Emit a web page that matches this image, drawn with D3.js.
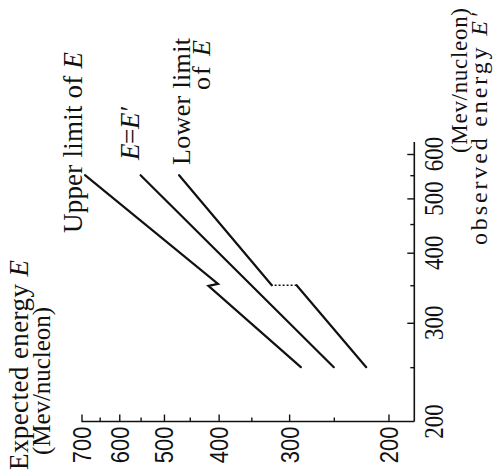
<!DOCTYPE html>
<html>
<head>
<meta charset="utf-8">
<script src="https://cdn.jsdelivr.net/npm/d3@7"></script>
<style>
  html, body { margin: 0; padding: 0; background: #fff; }
  svg { display: block; }
  text { fill: #111; }
</style>
</head>
<body>
<svg id="chart" width="493" height="476"></svg>
<script>
// ---- data (original orientation: x = observed energy E', y = expected energy E) ----
const observedTicksMajor = [200, 300, 400, 500, 600];
const observedTicksMinor = [250, 350, 450, 550];
const expectedTicksMajor = [200, 300, 400, 500, 600, 700];
const expectedTicksMinor = [250, 350, 450, 550, 650];

// Upper limit of E (small zig-zag at E' = 350)
const upperObserved = [250, 349, 352, 550];
const upperExpected = [286, 417, 401, 690];
// E = E'
const equalObserved = [250, 550];
const equalExpected = [250, 550];
// Lower limit of E (two solid parts joined by a dotted jump at E' = 350)
const lowerObservedA = [250, 350];
const lowerExpectedA = [219, 291];
const lowerObservedGap = [350, 350];
const lowerExpectedGap = [291, 322];
const lowerObservedB = [350, 550];
const lowerExpectedB = [322, 470];

// ---- drawing (the figure is rotated 90deg counter-clockwise) ----
const svg = d3.select("#chart");
const serif = "'Liberation Serif', 'DejaVu Serif', serif";
const sans = "'Liberation Sans', Arial, sans-serif";

// Expected energy E  -> screen x (increasing to the left)
const sE = d3.scaleLog().domain([180, 700]).range([414.3, 81.5]);
// Observed energy E' -> screen y (increasing upward)
const sO = d3.scaleLog().domain([200, 600]).range([421.5, 154]);

const line = d3.line().x(d => sE(d[1])).y(d => sO(d[0]));
const zip = (a, b) => a.map((v, i) => [v, b[i]]);

const axisG = svg.append("g").attr("stroke", "#111");
// bottom axis (E)
axisG.append("line")
  .attr("x1", sE(700)).attr("x2", sE(180))
  .attr("y1", sO(200)).attr("y2", sO(200))
  .attr("stroke-width", 1.6);
// right axis (E')
axisG.append("line")
  .attr("x1", sE(180)).attr("x2", sE(180))
  .attr("y1", sO(200)).attr("y2", sO(630))
  .attr("stroke-width", 1.6);

// E axis ticks (pointing up) via d3 axis
const gBottom = svg.append("g").attr("transform", `translate(0,${sO(200)})`);
gBottom.call(d3.axisTop(sE).tickValues(expectedTicksMajor).tickSize(7).tickFormat(""));
gBottom.append("g").call(d3.axisTop(sE).tickValues(expectedTicksMinor).tickSize(4).tickFormat(""));
gBottom.selectAll(".domain").remove();
gBottom.selectAll("line").attr("stroke", "#111").attr("stroke-width", 1.4);

// E' axis ticks (pointing left)
const gRight = svg.append("g").attr("transform", `translate(${sE(180)},0)`);
gRight.call(d3.axisLeft(sO).tickValues(observedTicksMajor.filter(v => v > 200)).tickSize(7).tickFormat(""));
gRight.append("g").call(d3.axisLeft(sO).tickValues(observedTicksMinor).tickSize(4).tickFormat(""));
gRight.selectAll(".domain").remove();
gRight.selectAll("line").attr("stroke", "#111").attr("stroke-width", 1.4);

// tick labels (rotated)
svg.append("g").selectAll("text").data(expectedTicksMajor).join("text")
  .attr("transform", d => `translate(${sE(d) + 9.5},${sO(200) + 5}) rotate(-90) scale(1,1.15)`)
  .attr("text-anchor", "end")
  .attr("font-family", sans).attr("font-size", 22)
  .text(d => d);

svg.append("g").selectAll("text").data(observedTicksMajor).join("text")
  .attr("transform", d => `translate(${sE(180) + 29},${sO(d)}) rotate(-90) scale(1,1.2)`)
  .attr("text-anchor", "middle")
  .attr("font-family", serif).attr("font-size", 23)
  .text(d => d);

// data lines
const lines = svg.append("g").attr("fill", "none").attr("stroke", "#111")
  .attr("stroke-width", 2.2).attr("stroke-linecap", "round");
lines.append("path").attr("d", line(zip(upperObserved, upperExpected)));
lines.append("path").attr("d", line(zip(equalObserved, equalExpected)));
lines.append("path").attr("d", line(zip(lowerObservedA, lowerExpectedA)));
lines.append("path").attr("d", line(zip(lowerObservedB, lowerExpectedB)));
lines.append("path").attr("d", line(zip(lowerObservedGap, lowerExpectedGap)))
  .attr("stroke-width", 1.6).attr("stroke-dasharray", "2,2").attr("stroke-linecap", "butt");

// rotated text helper
function rtext(x, y, anchor, size, parts, len) {
  const t = svg.append("text")
    .attr("transform", `translate(${x},${y}) rotate(-90)`)
    .attr("text-anchor", anchor)
    .attr("font-family", serif).attr("font-size", size);
  if (len) t.attr("textLength", len).attr("lengthAdjust", "spacing");
  parts.forEach(p => {
    t.append("tspan").attr("font-style", p.i ? "italic" : "normal").text(p.t);
  });
  return t;
}

// axis titles
rtext(28, 470, "start", 27, [{t: "Expected energy "}, {t: "E", i: true}], 210);
rtext(50, 455, "start", 25, [{t: "(Mev/nucleon)"}], 148);
rtext(467, 8, "end", 23, [{t: "(Mev/nucleon)"}], 145);
rtext(487, 13, "end", 24, [{t: "observed energy "}, {t: "E\u2032", i: true}], 232);

// series labels
rtext(82, 233, "start", 27, [{t: "Upper limit of "}, {t: "E", i: true}], 181);
rtext(139, 160, "start", 27, [{t: "E", i: true}, {t: "="}, {t: "E\u2032", i: true}], 53);
rtext(190, 38, "end", 26, [{t: "Lower limit"}], 127);
rtext(210, 40, "end", 26, [{t: "of "}, {t: "E", i: true}], 50);
</script>
</body>
</html>
